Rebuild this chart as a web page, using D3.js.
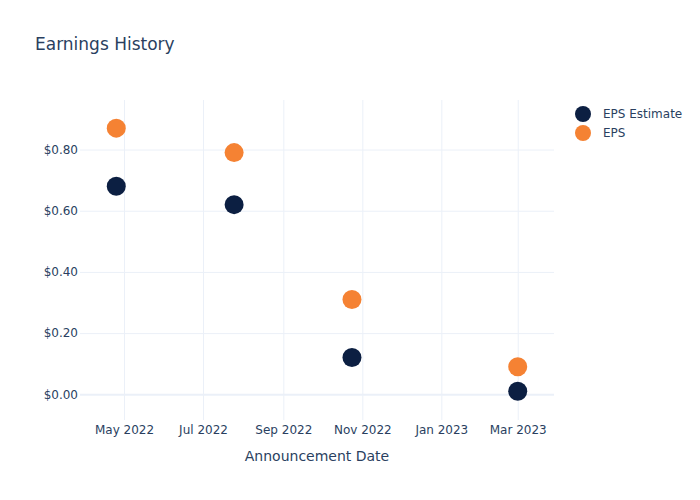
<!DOCTYPE html>
<html><head><meta charset="utf-8">
<script src="https://cdn.jsdelivr.net/npm/d3@7"></script>
<style>body{margin:0;background:#fff}svg{display:block}text{font-family:"DejaVu Sans",Verdana,sans-serif}</style>
</head><body><div id="chart"></div>
<script>
const dates = ["2022-04-25", "2022-07-25", "2022-10-24", "2023-03-01"];
const epsEstimate = [0.68, 0.62, 0.12, 0.01];
const eps = [0.87, 0.79, 0.31, 0.09];
const seriesNames = ["EPS Estimate", "EPS"];
const seriesColors = ["#0c1f42", "#f58233"];
const xTickDates = ["2022-05-01", "2022-07-01", "2022-09-01", "2022-11-01", "2023-01-01", "2023-03-01"];
const yTicks = [0, 0.2, 0.4, 0.6, 0.8];

const W = 700, H = 500;
const m = {l: 80, r: 146, t: 100, b: 80};
const parse = d3.timeParse("%Y-%m-%d");
const svg = d3.select("#chart").append("svg").attr("width", W).attr("height", H);

const x = d3.scaleTime()
  .domain([parse("2022-03-28"), parse("2023-03-29")])
  .range([m.l, W - m.r]);
const y = d3.scaleLinear().domain([-0.084, 0.962]).range([H - m.b, m.t]);

const textColor = "#2a3f5f", gridColor = "#ebf0f8";

// grid
const xAxis = d3.axisBottom(x).tickValues(xTickDates.map(parse))
  .tickFormat(d3.timeFormat("%b %Y")).tickSize(-(H - m.t - m.b)).tickPadding(5);
const gx = svg.append("g").attr("transform", `translate(0,${H - m.b})`).call(xAxis);
gx.select(".domain").remove();
gx.selectAll("line").attr("stroke", gridColor).attr("stroke-width", 1);
gx.selectAll("text").attr("fill", textColor).attr("font-size", 12);

const yAxis = d3.axisLeft(y).tickValues(yTicks)
  .tickFormat(d => "$" + d3.format(".2f")(d)).tickSize(-(W - m.l - m.r)).tickPadding(2);
const gy = svg.append("g").attr("transform", `translate(${m.l},0)`).call(yAxis);
gy.select(".domain").remove();
gy.selectAll("line").attr("stroke", gridColor).attr("stroke-width", d => d === 0 ? 2 : 1);
gy.selectAll("text").attr("fill", textColor).attr("font-size", 12);

// points
const series = [epsEstimate, eps];
series.forEach((vals, si) => {
  svg.append("g").selectAll("circle").data(vals).join("circle")
    .attr("cx", (d, i) => x(parse(dates[i])))
    .attr("cy", d => y(d))
    .attr("r", 9.5)
    .attr("fill", seriesColors[si]);
});

// title
svg.append("text").attr("x", 35).attr("y", 50).attr("font-size", 17)
  .attr("fill", textColor).text("Earnings History");

// x axis title
svg.append("text").attr("x", (m.l + W - m.r) / 2).attr("y", 461).attr("text-anchor", "middle")
  .attr("font-size", 14).attr("fill", textColor).text("Announcement Date");

// legend
const lg = svg.append("g");
seriesNames.forEach((n, i) => {
  lg.append("circle").attr("cx", 583).attr("cy", 114 + i * 19).attr("r", 8).attr("fill", seriesColors[i]);
  lg.append("text").attr("x", 603).attr("y", 114 + i * 19).attr("dy", "0.35em")
    .attr("font-size", 12).attr("fill", textColor).text(n);
});
</script></body></html>
